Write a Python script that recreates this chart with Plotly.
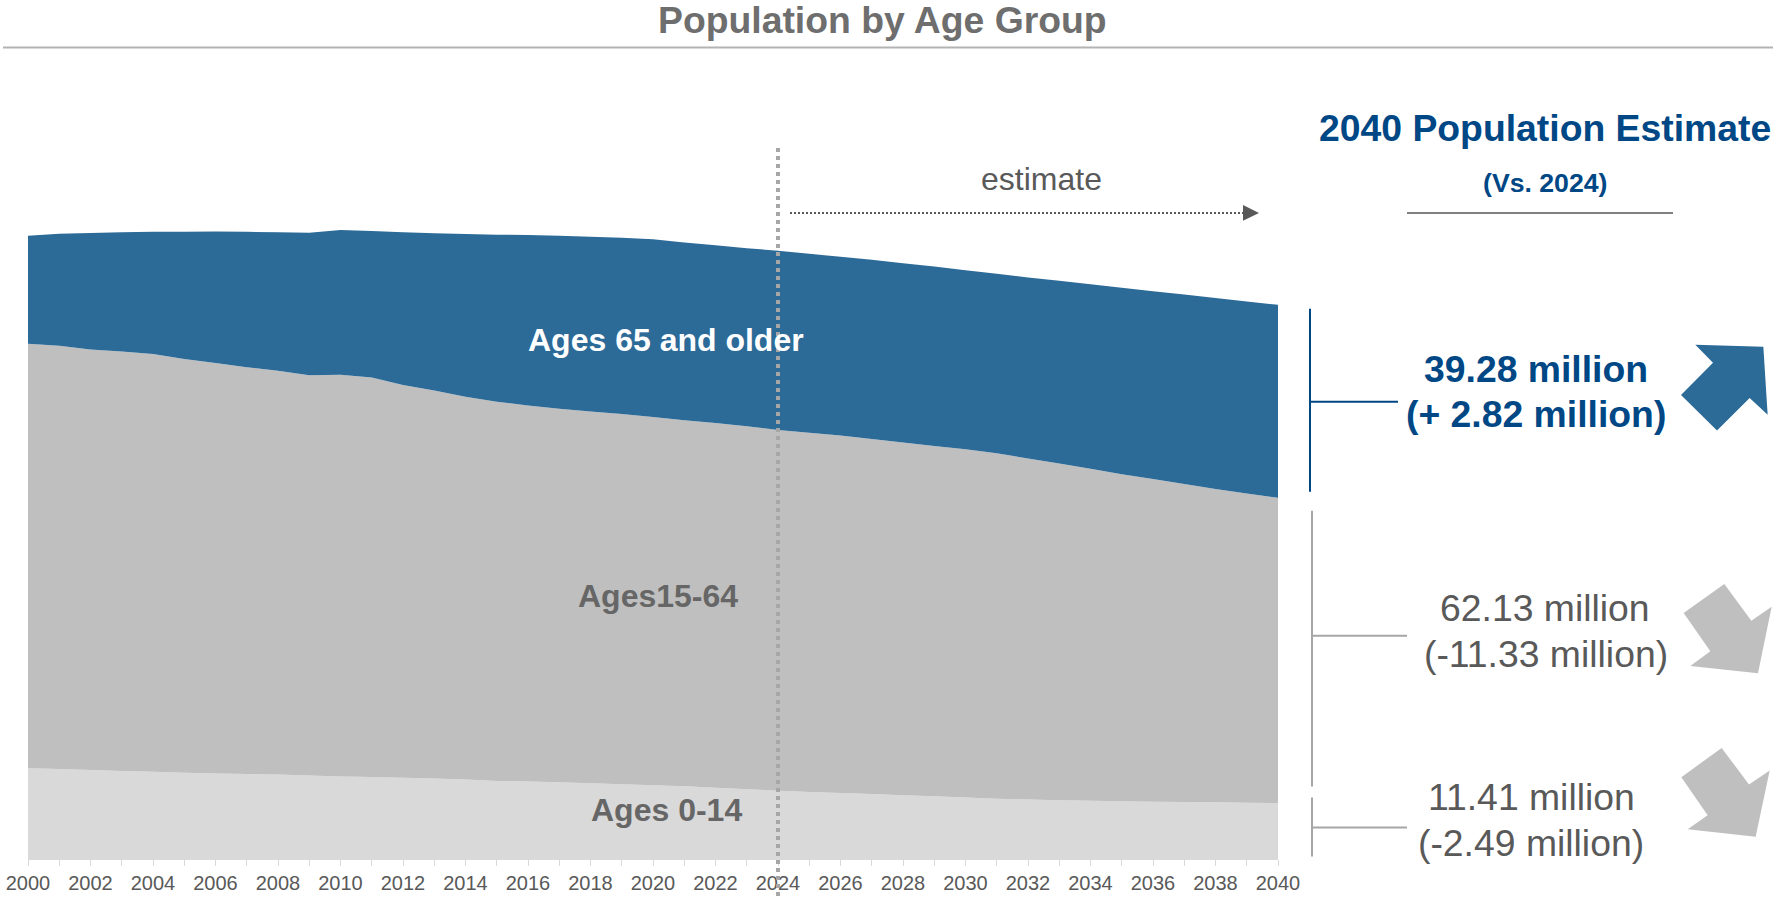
import plotly.graph_objects as go

# Population by age group, millions
years = list(range(2000, 2041))
ages_0_14 = [18.5, 18.3, 18.1, 17.9, 17.75, 17.55, 17.4, 17.3, 17.2, 17.0, 16.8,
             16.7, 16.55, 16.4, 16.2, 15.9, 15.8, 15.6, 15.4, 15.2, 15.0,
             14.8, 14.5, 14.2, 13.9, 13.65, 13.45, 13.25, 13.0, 12.75, 12.5,
             12.25, 12.1, 11.98, 11.88, 11.78, 11.68, 11.6, 11.53, 11.47, 11.41]
ages_15_64 = [86.38, 86.2, 85.6, 85.4, 85.05, 84.25, 83.55, 82.8, 82.2, 81.5, 81.8,
              81.3, 79.95, 79.0, 77.9, 77.2, 76.5, 76.05, 75.7, 75.4, 75.0,
              74.5, 74.25, 73.9, 73.46, 73.15, 72.75, 72.25, 71.8, 71.35, 70.9,
              70.35, 69.45, 68.52, 67.57, 66.57, 65.67, 64.75, 63.77, 62.93, 62.13]
ages_65_up = [22.02, 22.8, 23.75, 24.3, 24.9, 25.87, 26.8, 27.57, 28.19, 29.01, 29.46,
              29.83, 31.09, 32.01, 33.14, 33.99, 34.74, 35.25, 35.6, 35.85, 36.15,
              36.2, 36.2, 36.25, 36.46, 36.4, 36.4, 36.5, 36.5, 36.5, 36.45,
              36.55, 36.85, 37.2, 37.55, 37.95, 38.25, 38.55, 38.9, 39.1, 39.28]
tick_years = list(range(2000, 2041, 2))

FONT = "Liberation Sans"
NAVY = "#004785"
BLUE = "#2c6a98"
GREY = "#bfbfbf"
LIGHT = "#d9d9d9"
TEXT = "#595959"
LABEL = "#666666"
RULE = "#a6a6a6"

W, H = 1773, 899
LEFT, RIGHT, BASE = 28, 1278, 859.5
PX_PER_MILLION = 4.915


def fx(px):
    return (px - LEFT) / (RIGHT - LEFT)


def fy(py):
    return (BASE - py) / BASE


fig = go.Figure()
for name, values, colour in [("Ages 0-14", ages_0_14, LIGHT),
                             ("Ages 15-64", ages_15_64, GREY),
                             ("Ages 65 and older", ages_65_up, BLUE)]:
    fig.add_trace(go.Scatter(x=years, y=values, name=name, stackgroup="age",
                             mode="none", fillcolor=colour, hoverinfo="x+y+name"))

annotations = []


def text(label, x, y, size, colour, bold=False):
    annotations.append(dict(
        text=f"<b>{label}</b>" if bold else label,
        xref="paper", yref="paper", x=fx(x), y=fy(y),
        xanchor="center", yanchor="middle", showarrow=False,
        font=dict(family=FONT, size=size, color=colour),
    ))


text("Population by Age Group", 882, 20, 37.33, "#6e6e6e", True)
text("estimate", 1041, 179, 32, TEXT)
text("Ages 65 and older", 666, 340, 32, "#ffffff", True)
text("Ages15-64", 658, 596, 32, LABEL, True)
text("Ages 0-14", 666, 810, 32, LABEL, True)
text("2040 Population Estimate", 1545, 128, 37.33, NAVY, True)
text("(Vs. 2024)", 1545, 183, 26.67, NAVY, True)
text("39.28 million", 1536, 369, 37.33, NAVY, True)
text("(+ 2.82 million)", 1536, 414, 37.33, NAVY, True)
text("62.13 million", 1545, 608, 37.33, TEXT)
text("(-11.33 million)", 1546, 654, 37.33, TEXT)
text("11.41 million", 1531, 797, 37.33, TEXT)
text("(-2.49 million)", 1531, 843, 37.33, TEXT)

shapes = []


def line(x0, y0, x1, y1, colour, width, dash="solid"):
    shapes.append(dict(type="line", xref="paper", yref="paper",
                       x0=fx(x0), y0=fy(y0), x1=fx(x1), y1=fy(y1),
                       line=dict(color=colour, width=width, dash=dash)))


def polygon(points, colour):
    d = "M " + " L ".join(f"{fx(x):.5f},{fy(y):.5f}" for x, y in points) + " Z"
    shapes.append(dict(type="path", xref="paper", yref="paper", path=d,
                       fillcolor=colour, line=dict(width=0)))


def zoomed(points, ox, oy):
    return [(ox + a / 3, oy + b / 3) for a, b in points]


# header rules
line(3, 47.5, W, 47.5, "#b3b3b3", 2)
line(1407, 213, 1673, 213, "#808080", 2)

# 2024 divider and the estimate arrow
line(778, 148, 778, 899, RULE, 4, "4px,4px")
line(790, 213, 1244, 213, TEXT, 2, "2px,2px")
polygon([(1243, 205), (1259, 213), (1243, 221)], TEXT)

# brackets tying each band to its 2040 figure
line(1310, 309, 1310, 492, NAVY, 2)
line(1310, 402, 1398, 402, NAVY, 2)
line(1312, 511, 1312, 787, RULE, 2)
line(1312, 636, 1407, 636, RULE, 2)
line(1312, 798, 1312, 857, RULE, 2)
line(1312, 828, 1407, 828, RULE, 2)

# direction arrows
polygon(zoomed([(1336, 765), (1540, 771), (1553, 975), (1499, 925), (1401, 1022),
                (1293, 916), (1389, 819)], 1250, 90), BLUE)
polygon(zoomed([(1423, 283), (1504, 393), (1565, 351), (1524, 551), (1321, 529),
                (1381, 485), (1301, 370)], 1250, 490), GREY)
polygon(zoomed([(1415, 775), (1497, 885), (1559, 843), (1517, 1042), (1313, 1019),
                (1373, 977), (1294, 863)], 1250, 490), GREY)

fig.update_layout(
    width=W, height=H, autosize=False,
    margin=dict(l=LEFT, r=W - RIGHT, t=0, b=H - BASE, pad=0),
    paper_bgcolor="#ffffff", plot_bgcolor="#ffffff", showlegend=False,
    annotations=annotations, shapes=shapes,
    xaxis=dict(range=[2000, 2040], tickmode="array", tickvals=tick_years,
               ticktext=[str(y) for y in tick_years], ticks="outside", ticklen=6,
               tickcolor=LIGHT, tickwidth=1, showgrid=False, zeroline=False,
               showline=True, linecolor=LIGHT, linewidth=1,
               tickfont=dict(family=FONT, size=20, color=TEXT),
               minor=dict(tickvals=years, ticks="outside", ticklen=6,
                          tickcolor=LIGHT, tickwidth=1, showgrid=False)),
    yaxis=dict(range=[0, BASE / PX_PER_MILLION], visible=False, fixedrange=True),
)

fig.write_html("out.html", config={"displayModeBar": False})
